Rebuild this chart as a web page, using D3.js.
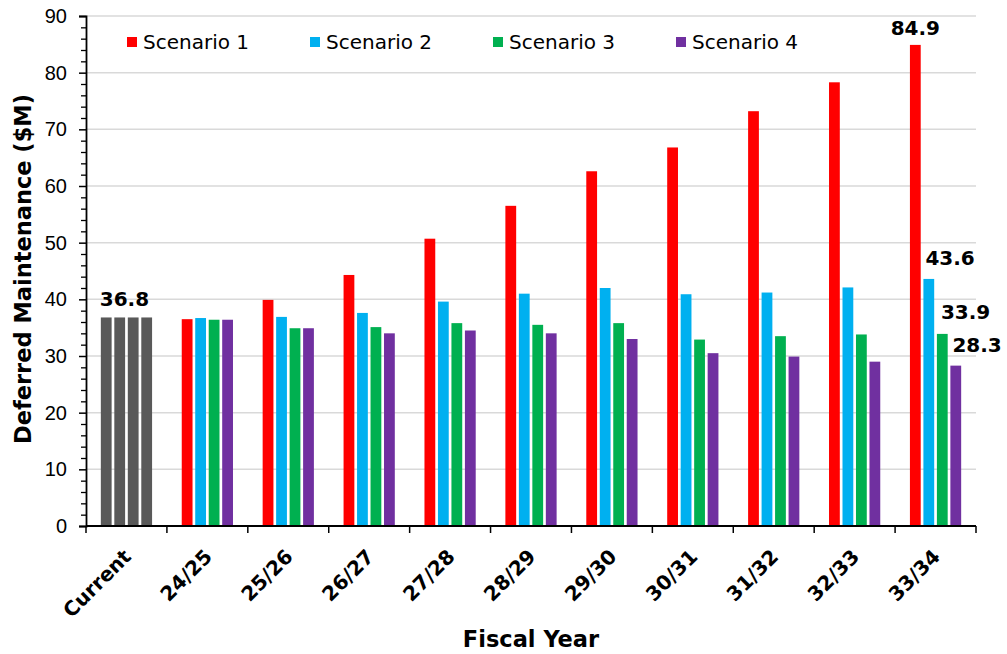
<!DOCTYPE html>
<html>
<head>
<meta charset="utf-8">
<script src="https://cdn.jsdelivr.net/npm/d3@7"></script>
<style>
  body { margin: 0; background: #fff; }
  svg { font-family: "DejaVu Sans", Verdana, sans-serif; }
</style>
</head>
<body>
<svg width="1007" height="654"></svg>
<script>
let width = 1007, height = 654;

// categories and series
const years = ["Current", "24/25", "25/26", "26/27", "27/28", "28/29", "29/30", "30/31", "31/32", "32/33", "33/34"];
const series = ["Scenario 1", "Scenario 2", "Scenario 3", "Scenario 4"];
const colors = ["#ff0000", "#00b0f0", "#00b050", "#7030a0"];
const currentColor = "#595959";

const scenario1 = [36.8, 36.5, 39.9, 44.3, 50.7, 56.5, 62.6, 66.8, 73.2, 78.3, 84.9];
const scenario2 = [36.8, 36.7, 36.9, 37.6, 39.6, 41.0, 42.0, 40.9, 41.2, 42.1, 43.6];
const scenario3 = [36.8, 36.4, 34.9, 35.1, 35.8, 35.5, 35.8, 32.9, 33.5, 33.8, 33.9];
const scenario4 = [36.8, 36.4, 34.9, 34.0, 34.5, 34.0, 33.0, 30.5, 29.9, 29.0, 28.3];
const allSeries = [scenario1, scenario2, scenario3, scenario4];

const yTicks = [0, 10, 20, 30, 40, 50, 60, 70, 80, 90];

let margin = {left: 86, right: 31, top: 16, bottom: 128};

let svg = d3.select("svg");

let x0 = d3.scaleBand()
    .domain(years)
    .range([margin.left, width - margin.right])
    .paddingInner(0.35)
    .paddingOuter(0.175);

let x1 = d3.scaleBand()
    .domain(series)
    .range([0, x0.bandwidth()])
    .paddingInner(0.2)
    .paddingOuter(0.05);

let y = d3.scaleLinear()
    .domain([0, 90])
    .range([height - margin.bottom, margin.top]);

// gridlines
svg.append("g")
    .selectAll("line")
    .data(yTicks.filter(d => d > 0))
    .enter()
    .append("line")
    .attr("x1", margin.left)
    .attr("x2", width - margin.right)
    .attr("y1", d => y(d))
    .attr("y2", d => y(d))
    .attr("stroke", "#d9d9d9")
    .attr("stroke-width", 1.5);

// bars
let rows = [];
years.forEach((yr, i) => {
    series.forEach((s, j) => {
        rows.push({year: yr, s: s, j: j, v: allSeries[j][i]});
    });
});

svg.append("g")
    .selectAll("rect")
    .data(rows)
    .enter()
    .append("rect")
    .attr("x", d => x0(d.year) + x1(d.s))
    .attr("y", d => y(d.v))
    .attr("width", x1.bandwidth())
    .attr("height", d => y(0) - y(d.v))
    .attr("fill", d => d.year === "Current" ? currentColor : colors[d.j]);

// y axis with minor ticks
let yAxis = svg.append("g")
    .attr("transform", `translate(${margin.left},0)`)
    .call(d3.axisLeft(y).tickValues(yTicks).tickSize(7).tickPadding(12));
yAxis.select(".domain").attr("stroke", "#000").attr("stroke-width", 1.8);
yAxis.selectAll(".tick line").attr("stroke-width", 1.5);
yAxis.selectAll("text").attr("font-size", 20).attr("fill", "#000");

svg.append("g")
    .attr("transform", `translate(${margin.left},0)`)
    .call(d3.axisLeft(y).tickValues(d3.range(0, 91, 2).filter(d => d % 10 !== 0)).tickSize(5).tickFormat(""))
    .call(g => g.select(".domain").remove())
    .selectAll("line").attr("stroke-width", 1.3);

// x axis: ticks at category boundaries
let xAxisG = svg.append("g")
    .attr("transform", `translate(0,${y(0)})`);
xAxisG.append("line")
    .attr("x1", margin.left)
    .attr("x2", width - margin.right)
    .attr("stroke", "#000")
    .attr("stroke-width", 1.8);
xAxisG.selectAll(".bt")
    .data(years.concat(["end"]))
    .enter()
    .append("line")
    .attr("x1", (d, i) => margin.left + i * x0.step())
    .attr("x2", (d, i) => margin.left + i * x0.step())
    .attr("y1", 0)
    .attr("y2", 7)
    .attr("stroke", "#000")
    .attr("stroke-width", 1.5);

xAxisG.selectAll(".lbl")
    .data(years)
    .enter()
    .append("text")
    .attr("transform", d => `translate(${x0(d) + x0.bandwidth() / 2 - 4},22) rotate(-45)`)
    .attr("text-anchor", "end")
    .attr("dy", "0.7em")
    .attr("font-size", 20)
    .attr("font-weight", "bold")
    .text(d => d);

// axis titles
svg.append("text")
    .attr("transform", `translate(23,${(y(0) + y(90)) / 2 - 2}) rotate(-90)`)
    .attr("text-anchor", "middle")
    .attr("dy", "0.35em")
    .attr("font-size", 22.5)
    .attr("font-weight", "bold")
    .text("Deferred Maintenance ($M)");

svg.append("text")
    .attr("x", (margin.left + width - margin.right) / 2)
    .attr("y", 647)
    .attr("text-anchor", "middle")
    .attr("font-size", 22.5)
    .attr("font-weight", "bold")
    .text("Fiscal Year");

// legend
let legend = svg.append("g")
    .selectAll("g")
    .data(series)
    .enter()
    .append("g")
    .attr("transform", (d, i) => `translate(${127 + i * 183},37)`);
legend.append("rect")
    .attr("width", 10)
    .attr("height", 10)
    .attr("fill", (d, i) => colors[i]);
legend.append("text")
    .attr("x", 16)
    .attr("y", 12)
    .attr("font-size", 20)
    .text(d => d);

// data labels
const last = years.length - 1;
let labels = [
    {x: x0("Current") + x0.bandwidth() / 2 - 2, y: y(scenario1[0]) - 11, anchor: "middle", t: scenario1[0]},
    {x: x0(years[last]) + x1(series[0]) + x1.bandwidth() / 2, y: y(scenario1[last]) - 10, anchor: "middle", t: scenario1[last]},
    {x: x0(years[last]) + x1(series[1]) + 2, y: y(scenario2[last]) - 14, anchor: "start", t: scenario2[last]},
    {x: x0(years[last]) + x1(series[2]) + 4, y: y(scenario3[last]) - 15, anchor: "start", t: scenario3[last]},
    {x: x0(years[last]) + x1(series[3]) + 2, y: y(scenario4[last]) - 14, anchor: "start", t: scenario4[last]}
];
svg.append("g")
    .selectAll("text")
    .data(labels)
    .enter()
    .append("text")
    .attr("x", d => d.x)
    .attr("y", d => d.y)
    .attr("text-anchor", d => d.anchor)
    .attr("font-size", 20)
    .attr("font-weight", "bold")
    .text(d => d.t.toFixed(1));
</script>
</body>
</html>
